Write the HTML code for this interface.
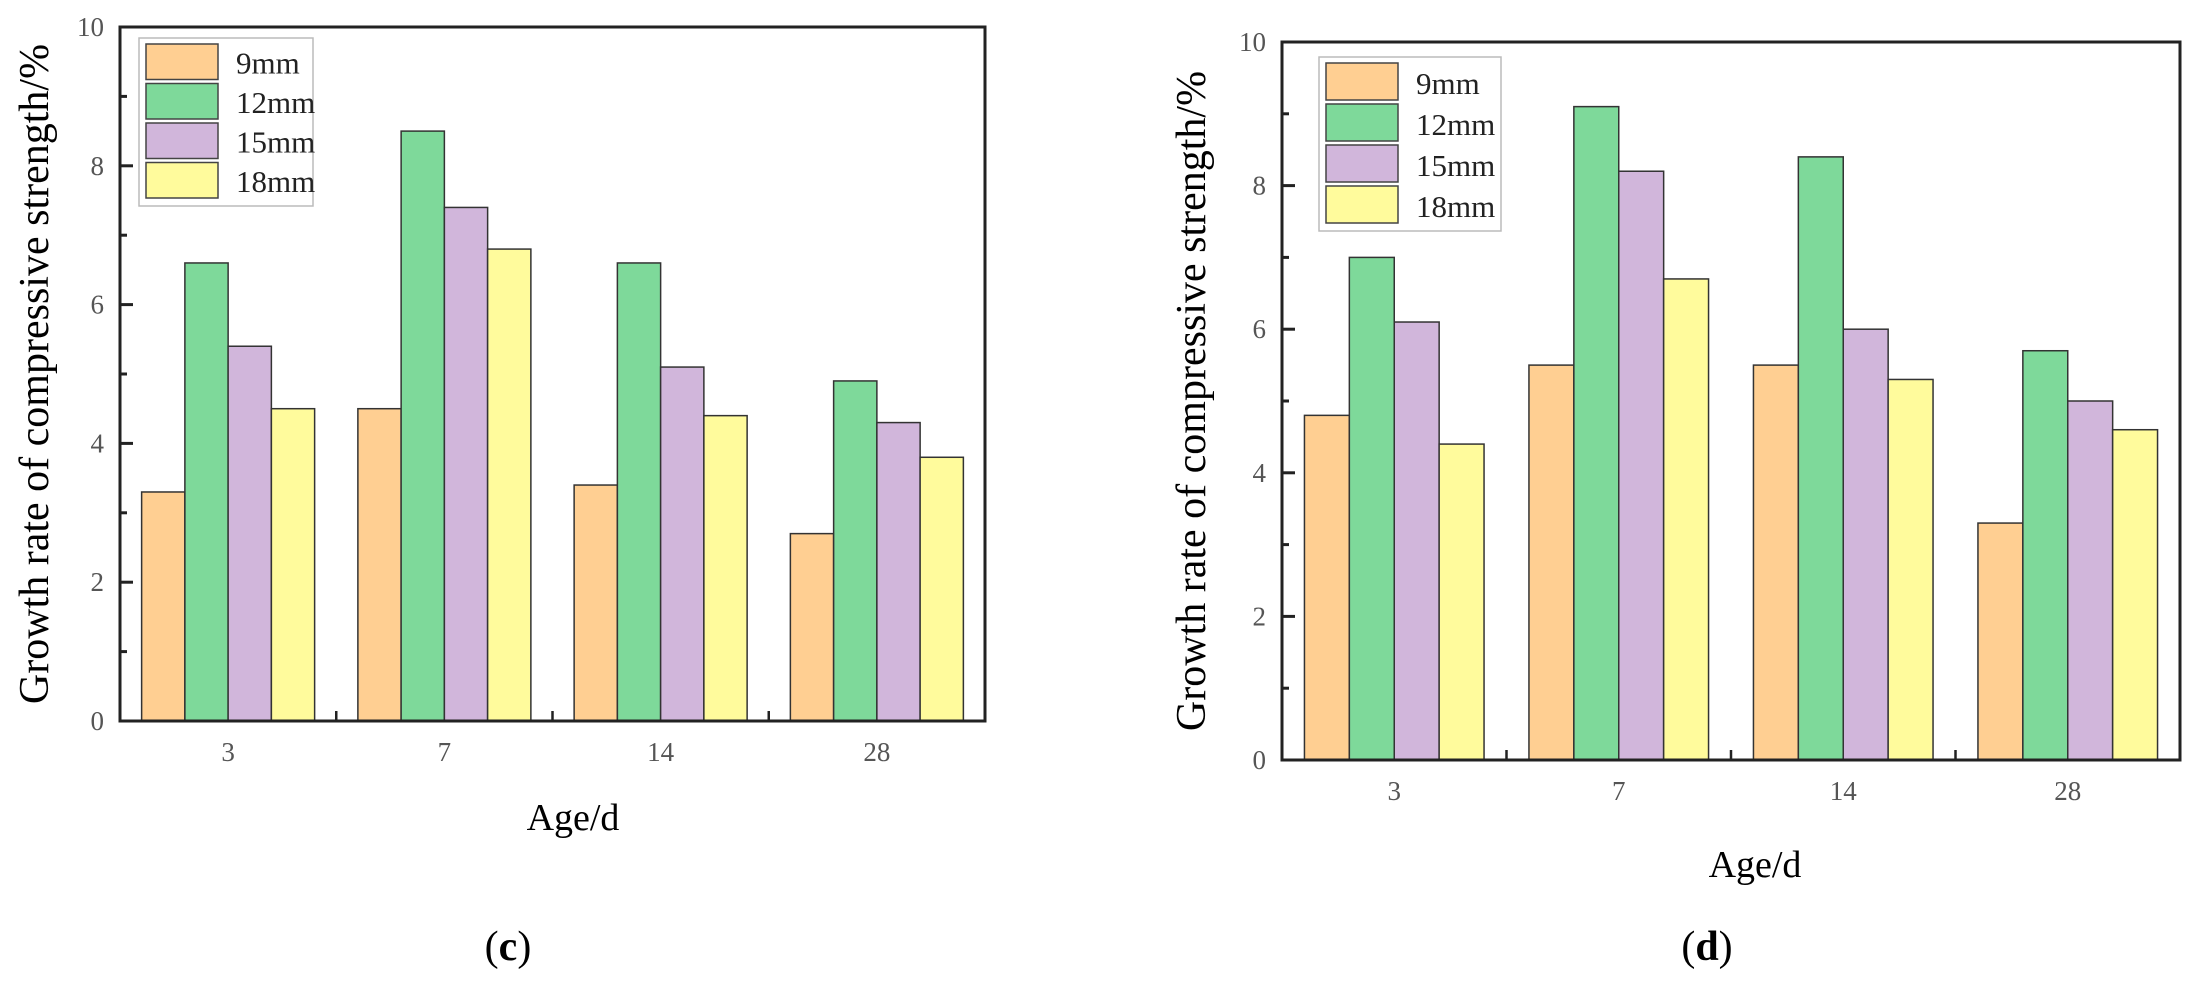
<!DOCTYPE html>
<html><head><meta charset="utf-8">
<style>
html,body{margin:0;padding:0;background:#fff;}
svg{display:block;font-family:"Liberation Serif",serif;}
</style></head>
<body>
<svg id="fig" width="2190" height="985" viewBox="0 0 2190 985">
<text x="508" y="960" text-anchor="middle" font-size="42" fill="#000">(<tspan font-weight="bold">c</tspan>)</text>
<text x="1707" y="960" text-anchor="middle" font-size="42" fill="#000">(<tspan font-weight="bold">d</tspan>)</text>
<text x="573" y="830" text-anchor="middle" font-size="38" fill="#000">Age/d</text>
<text x="1755" y="877" text-anchor="middle" font-size="38" fill="#000">Age/d</text>
<text transform="translate(48,374) rotate(-90)" text-anchor="middle" font-size="42" fill="#000">Growth rate of compressive strength/%</text>
<text transform="translate(1205,401) rotate(-90)" text-anchor="middle" font-size="42" fill="#000">Growth rate of compressive strength/%</text>
</svg>
<script>
const categories = ["3","7","14","28"];
const seriesNames = ["9mm","12mm","15mm","18mm"];
const c9 = [3.3,4.5,3.4,2.7];
const c12 = [6.6,8.5,6.6,4.9];
const c15 = [5.4,7.4,5.1,4.3];
const c18 = [4.5,6.8,4.4,3.8];
const d9 = [4.8,5.5,5.5,3.3];
const d12 = [7.0,9.1,8.4,5.7];
const d15 = [6.1,8.2,6.0,5.0];
const d18 = [4.4,6.7,5.3,4.6];
const yTicks = [0,2,4,6,8,10];
const colors = ["#FFCF92","#7ED99A","#D1B6DB","#FFFB9C"];
const NS="http://www.w3.org/2000/svg";
const svg=document.getElementById('fig');
function mk(tag,attrs,parent){const e=document.createElementNS(NS,tag);for(const k in attrs)e.setAttribute(k,attrs[k]);(parent||svg).appendChild(e);return e;}

function chart(id,L,R,T,B,series,legend){
  const g=mk('g',{});
  
  
  const y=v=>B-(v/10)*(B-T);
  const gw=(R-L)/categories.length;
  const bw=gw*0.2;
  series.forEach((s,si)=>{
    s.forEach((v,ci)=>{
      const x=L+gw*ci+gw/2-2*bw+si*bw;
      const r=mk('rect',{x:x,y:y(v),width:bw,height:B-y(v),fill:colors[si],stroke:'#333','stroke-width':1.5},g);
      
      
    });
  });
  const fr=mk('rect',{x:L,y:T,width:R-L,height:B-T,fill:'none',stroke:'#222','stroke-width':3},g);
  
  
  for(let v=0;v<=10;v++){
    const len=v%2===0?13:7;
    mk('line',{x1:L,x2:L+len,y1:y(v),y2:y(v),stroke:'#222','stroke-width':3},g);
  }
  yTicks.forEach(v=>{
    const t=mk('text',{x:L-16,y:y(v)+9,'text-anchor':'end','font-size':27,fill:'#555'},g);
    t.textContent=String(v);
    
    
  });
  for(let i=1;i<categories.length;i++){
    const x=L+gw*i;
    mk('line',{x1:x,x2:x,y1:B,y2:B-10,stroke:'#222','stroke-width':2.5},g);
  }
  categories.forEach((c,i)=>{
    const t=mk('text',{x:L+gw*i+gw/2,y:B+40,'text-anchor':'middle','font-size':27,fill:'#555'},g);
    t.textContent=c;
    
    
  });
  const lg=mk('g',{},g);
  
  
  mk('rect',{x:legend.x,y:legend.y,width:legend.w,height:legend.pitch*4+10,fill:'#fff',stroke:'#bbb','stroke-width':1.5},lg);
  seriesNames.forEach((n,i)=>{
    const ry=legend.y+6+i*legend.pitch;
    const sw=mk('rect',{x:legend.x+7,y:ry,width:72,height:legend.pitch-4,fill:colors[i],stroke:'#444','stroke-width':1.5},lg);
    
    
    const t=mk('text',{x:legend.x+97,y:ry+legend.pitch-10,'font-size':31,fill:'#222'},lg);
    t.textContent=n;
    
    
  });
}
chart('chart-c',120,985,27,721,[c9,c12,c15,c18],{x:139,y:38,w:174,pitch:39.5});
chart('chart-d',1282,2180,42,760,[d9,d12,d15,d18],{x:1319,y:57,w:182,pitch:41});
</script>
</body></html>
